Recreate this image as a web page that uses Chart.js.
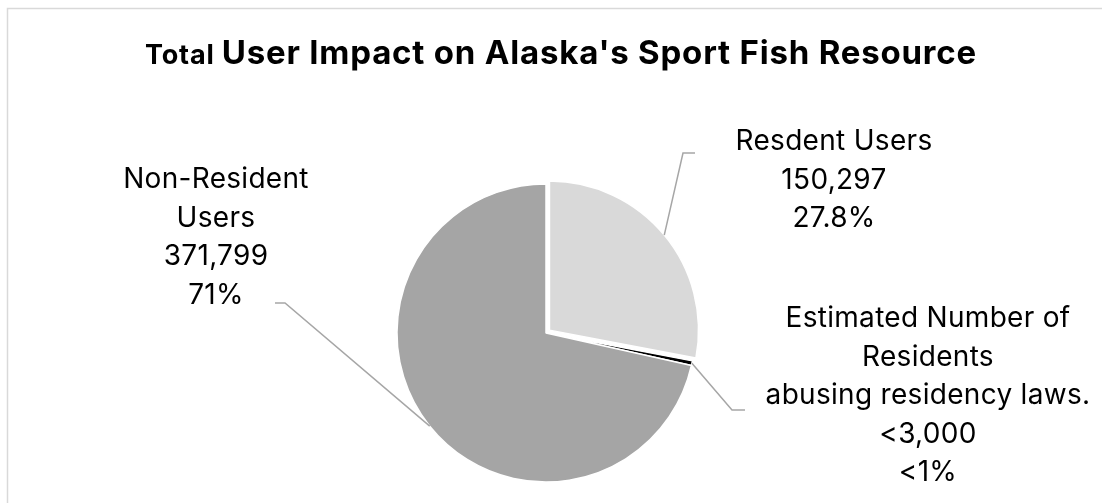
<!DOCTYPE html>
<html>
<head>
<meta charset="utf-8">
<script src="https://cdn.jsdelivr.net/npm/chart.js@4"></script>
<style>
  body { margin: 0; background: #fff; }
  canvas { display: block; }
</style>
</head>
<body>
<canvas id="myChart" width="1102" height="503"></canvas>
<script>
// data
const categories = ['Resdent Users', 'Estimated Number of Residents abusing residency laws.', 'Non-Resident Users'];
const shares = [27.8, 0.5, 71];
const countLabels = ['150,297', '<3,000', '371,799'];
const pctLabels = ['27.8%', '<1%', '71%'];
const nameLines = [['Resdent Users'], ['Estimated Number of', 'Residents', 'abusing residency laws.'], ['Non-Resident', 'Users']];
const sliceColors = ['#d9d9d9', '#000000', '#a5a5a5'];

// label placement, relative to pie centre
const labelPos = [
    { x: 288, y: -183, elbow: [137, -180], end: [149, -180] },
    { x: 382, y: -6, elbow: [186, 77], end: [199, 77] },
    { x: -330, y: -145, elbow: [-261, -30], end: [-271, -30] },
];
const FONT = 'Inter, "Liberation Sans", Arial, sans-serif';

// frame + title
const framePlugin = {
    id: 'frame',
    beforeDraw(chart) {
        const ctx = chart.ctx;
        ctx.save();
        ctx.fillStyle = '#fff';
        ctx.fillRect(0, 0, chart.width, chart.height);
        ctx.strokeStyle = '#d9d9d9';
        ctx.lineWidth = 1.5;
        ctx.strokeRect(7.5, 8.5, chart.width + 20, chart.height + 20);

        // title with two font sizes
        ctx.letterSpacing = '0.8px';
        const small = 'bold 27px ' + FONT;
        const big = 'bold 33px ' + FONT;
        const t1 = 'Total ';
        const t2 = "User Impact on Alaska's Sport Fish Resource";
        ctx.font = small;
        const w1 = ctx.measureText(t1).width;
        ctx.font = big;
        const w2 = ctx.measureText(t2).width;
        let x = 561 - (w1 + w2) / 2;
        ctx.fillStyle = '#000';
        ctx.textBaseline = 'alphabetic';
        ctx.textAlign = 'left';
        ctx.font = small;
        ctx.fillText(t1, x, 64);
        ctx.font = big;
        ctx.fillText(t2, x + w1, 64);
        ctx.restore();
    }
};

// leader lines + data labels
const labelPlugin = {
    id: 'pieLabels',
    afterDatasetsDraw(chart) {
        const ctx = chart.ctx;
        const meta = chart.getDatasetMeta(0);
        ctx.save();
        meta.data.forEach((arc, i) => {
            const p = labelPos[i];
            const cx = arc.x, cy = arc.y;
            const mid = (arc.startAngle + arc.endAngle) / 2;
            // chart.js draws the offset at a quarter of the option value
            const r = arc.outerRadius + (arc.options.offset || 0) / 4;
            const sx = cx + Math.cos(mid) * r;
            const sy = cy + Math.sin(mid) * r;

            ctx.strokeStyle = '#a6a6a6';
            ctx.lineWidth = 1.5;
            ctx.beginPath();
            ctx.moveTo(sx, sy);
            ctx.lineTo(cx + p.elbow[0], cy + p.elbow[1]);
            ctx.lineTo(cx + p.end[0], cy + p.end[1]);
            ctx.stroke();

            const lines = nameLines[i].concat([countLabels[i], pctLabels[i]]);
            ctx.fillStyle = '#000';
            ctx.font = '28px ' + FONT;
            ctx.letterSpacing = '0.3px';
            ctx.textAlign = 'center';
            ctx.textBaseline = 'alphabetic';
            lines.forEach((txt, j) => {
                ctx.fillText(txt, cx + p.x, cy + p.y + j * 38.5);
            });
        });
        ctx.restore();
    }
};

const data = {
    labels: categories,
    datasets: [{
        data: shares,
        backgroundColor: sliceColors,
        borderColor: '#ffffff',
        borderWidth: 1.5,
        offset: [18, 0, 0],
    }]
};

const config = {
    type: 'pie',
    data,
    options: {
        responsive: false,
        animation: false,
        radius: 149,
        layout: {
            padding: { left: 0, right: 10, top: 163, bottom: 0 }
        },
        plugins: {
            legend: { display: false },
            tooltip: { enabled: false },
            title: { display: false },
        }
    },
    plugins: [framePlugin, labelPlugin]
};

const myChart = new Chart(document.getElementById('myChart'), config);
</script>
</body>
</html>
